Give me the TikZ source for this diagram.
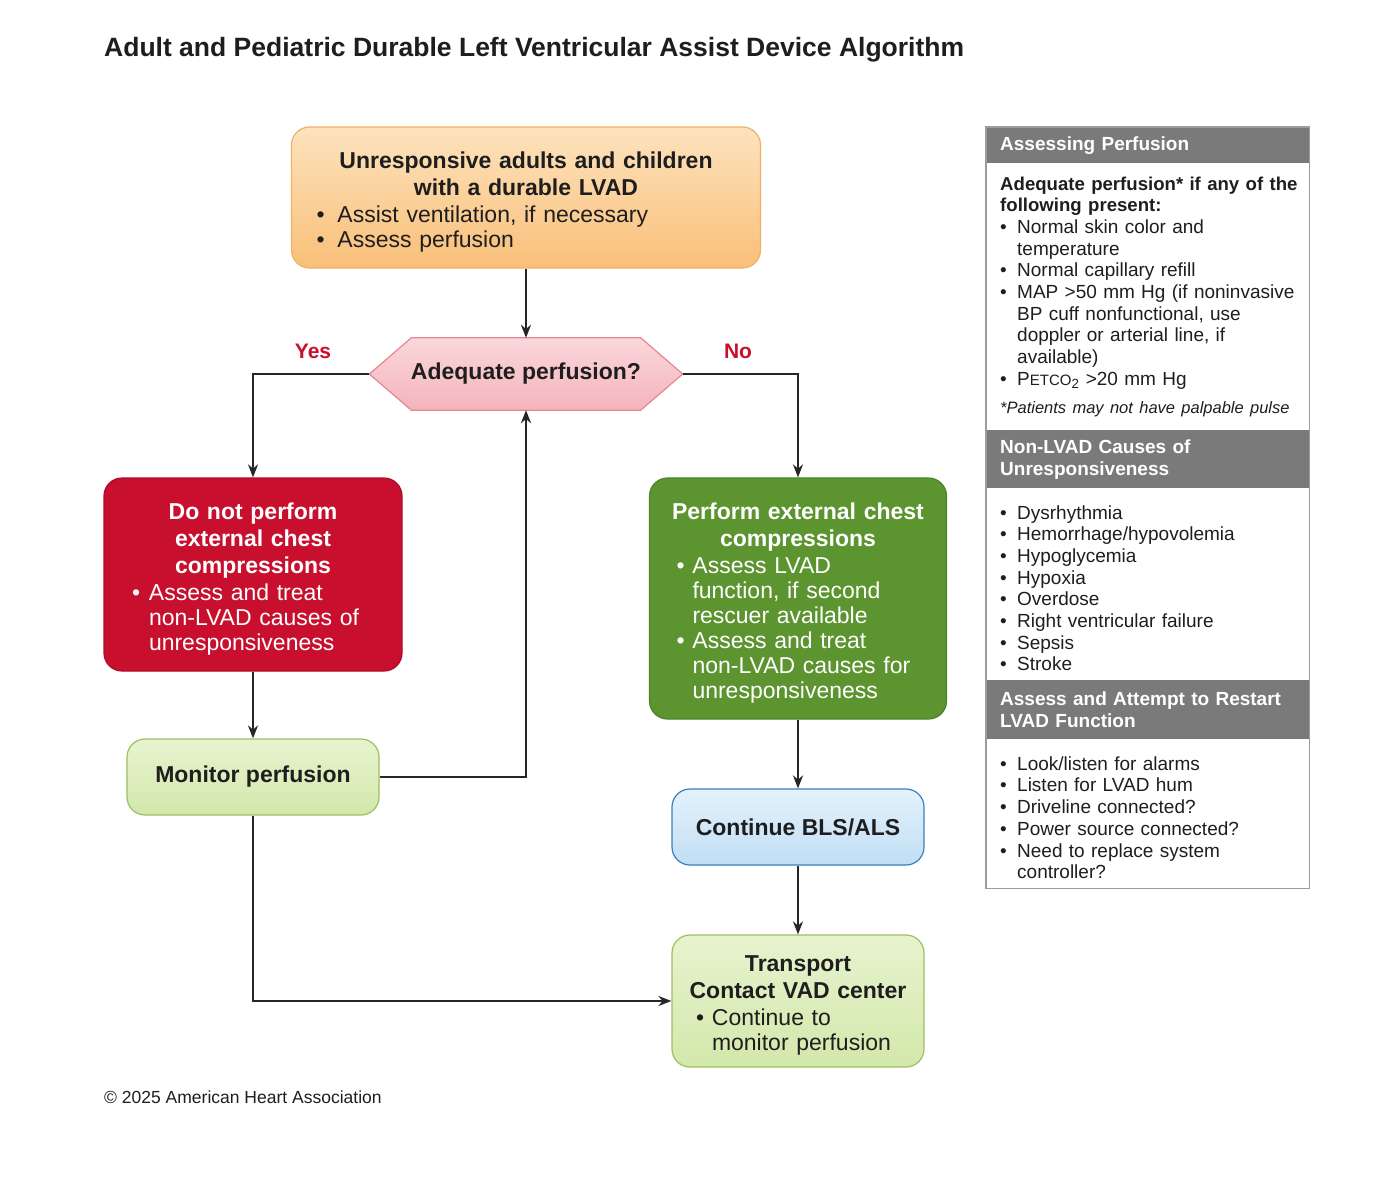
\documentclass[tikz,border=0pt]{standalone}
\usepackage{fontspec}
\setmainfont{Liberation Sans}
\usetikzlibrary{arrows.meta}
\pgfdeclarelayer{background}
\pgfsetlayers{background,main}
\setlength{\parindent}{0pt}
\definecolor{orangetop}{HTML}{FDE3BE}
\definecolor{orangebot}{HTML}{F9BF78}
\definecolor{orangeline}{HTML}{F0B265}
\definecolor{hextop}{HTML}{FAD7DB}
\definecolor{hexbot}{HTML}{F4B4BC}
\definecolor{hexline}{HTML}{E38893}
\definecolor{ahared}{HTML}{C8102E}
\definecolor{aharedline}{HTML}{B00C28}
\definecolor{ahagreen}{HTML}{5C9430}
\definecolor{ahagreenline}{HTML}{4E8427}
\definecolor{lgtop}{HTML}{E7F3CF}
\definecolor{lgbot}{HTML}{D3E8AB}
\definecolor{lgline}{HTML}{9CBF62}
\definecolor{bltop}{HTML}{E4F2FC}
\definecolor{blbot}{HTML}{C0DEF4}
\definecolor{blline}{HTML}{3D7DC0}
\definecolor{panelgray}{HTML}{7A7A7A}
\definecolor{panelline}{HTML}{9C9C9C}
\definecolor{linedark}{HTML}{262626}
\definecolor{textdark}{HTML}{1E1E1E}
\newcommand{\hd}[1]{\par\makebox[\hsize]{\bfseries #1}\par\vspace{2pt}}
\newcommand{\bitem}[2][17pt]{\par\hangindent=#1\hangafter=1\makebox[#1][l]{\textbullet}#2\par}

\begin{document}
\begin{tikzpicture}[x=1pt, y=-1pt,
    flow/.style={rounded corners=18pt, line width=1.2pt, inner sep=0pt, align=left, text=textdark, font=\fontsize{23}{25}\selectfont},
    lightgreen/.style={flow, draw=lgline, top color=lgtop, bottom color=lgbot},
    arr/.style={line width=2pt, draw=linedark, -{Stealth[length=13pt, width=10pt]}},
    lbl/.style={text=ahared, font=\bfseries\fontsize{21}{24}\selectfont},
    panelhd/.style={anchor=north west, fill=panelgray, text=white, inner sep=0pt, minimum width=323pt, text width=295pt, align=left, font=\bfseries\fontsize{19}{22}\selectfont},
    panelbody/.style={anchor=north west, fill=white, text=textdark, inner sep=0pt, minimum width=323pt, text width=295pt, align=left, font=\fontsize{19}{21.7}\selectfont}]
    \useasboundingbox (0,0) rectangle (1400,1194);

    \node[anchor=base west, inner sep=0pt, text=textdark, font=\bfseries\fontsize{26.5}{30}\selectfont] (title) at (104,56) {Adult and Pediatric Durable Left Ventricular Assist Device Algorithm};

    \node[flow, draw=orangeline, top color=orangetop, bottom color=orangebot, minimum width=469pt, minimum height=141pt, text width=419pt] (start) at (526,197.5)
        {\hd{Unresponsive adults and children}\hd{with a durable LVAD}\bitem[21pt]{Assist ventilation, if necessary}\bitem[21pt]{Assess perfusion}};
    \node[minimum width=313pt, minimum height=72pt, inner sep=0pt, text=textdark, font=\bfseries\fontsize{23}{25}\selectfont] (chk) at (526,374) {Adequate perfusion?};
    \node[lbl] (yes) at (313,351) {Yes};
    \node[lbl] (no) at (738,351) {No};
    \node[flow, draw=aharedline, fill=ahared, text=white, minimum width=298pt, minimum height=193pt, text width=242pt] (nocpr) at (253,574.5)
        {\hd{Do not perform}\hd{external chest}\hd{compressions}\bitem{Assess and treat\newline non-LVAD causes of\newline unresponsiveness}};
    \node[flow, draw=ahagreenline, fill=ahagreen, text=white, minimum width=297pt, minimum height=241pt, text width=243pt] (cpr) at (798,598.5)
        {\hd{Perform external chest}\hd{compressions}\bitem[16pt]{Assess LVAD\newline function, if second\newline rescuer available}\bitem[16pt]{Assess and treat\newline non-LVAD causes for\newline unresponsiveness}};
    \node[lightgreen, minimum width=252pt, minimum height=76pt, font=\bfseries\fontsize{23}{25}\selectfont] (mon) at (253,777) {Monitor perfusion};
    \node[flow, draw=blline, top color=bltop, bottom color=blbot, minimum width=252pt, minimum height=76pt, font=\bfseries\fontsize{23}{25}\selectfont] (bls) at (798,827) {Continue BLS/ALS};
    \node[lightgreen, minimum width=252pt, minimum height=132pt, text width=204pt] (tr) at (798,1001)
        {\hd{Transport}\hd{Contact VAD center}\bitem[16pt]{Continue to\newline monitor perfusion}};

    \begin{pgfonlayer}{background}
        \fill[white] (0,0) rectangle (1400,1194);
        \path[draw=hexline, line width=1.2pt, top color=hextop, bottom color=hexbot] (chk.west) -- ([xshift=42pt]chk.north west) -- ([xshift=-42pt]chk.north east)
            -- (chk.east) -- ([xshift=-42pt]chk.south east) -- ([xshift=42pt]chk.south west) -- cycle;
    \end{pgfonlayer}

    \draw[arr] (start.south) -- (chk.north);
    \draw[arr] (chk.west) -| (nocpr.north);
    \draw[arr] (chk.east) -| (cpr.north);
    \draw[arr] (nocpr.south) -- (mon.north);
    \draw[arr] (mon.east) -| (chk.south);
    \draw[arr] (mon.south) |- (tr.west);
    \draw[arr] (cpr.south) -- (bls.north);
    \draw[arr] (bls.south) -- (tr.north);

    \node[panelhd, minimum height=36pt] (hdPerf) at (986,127) {Assessing Perfusion};
    \node[panelbody, minimum height=267pt] (bdPerf) at (986,163)
        {{\fontsize{18.6}{21.7}\selectfont\bfseries \mbox{Adequate perfusion* if any of the}\newline following present:\par}
        \bitem{Normal skin color and\newline temperature}
        \bitem{Normal capillary refill}
        \bitem{\mbox{MAP >50 mm Hg (if noninvasive}\newline BP cuff nonfunctional, use\newline doppler or arterial line, if\newline available)}
        \bitem{P{\fontsize{15}{15}\selectfont ETCO}\textsubscript{2} >20 mm Hg}
        \vspace{8pt}{\itshape\fontsize{16.5}{20}\selectfont \mbox{*Patients may not have palpable pulse}\par}};
    \node[panelhd, minimum height=58pt] (hdCause) at (986,430) {Non-LVAD Causes of\\Unresponsiveness};
    \node[panelbody, minimum height=192pt] (bdCause) at (986,488)
        {\bitem{Dysrhythmia}\bitem{Hemorrhage/hypovolemia}\bitem{Hypoglycemia}\bitem{Hypoxia}
        \bitem{Overdose}\bitem{Right ventricular failure}\bitem{Sepsis}\bitem{Stroke}};
    \node[panelhd, minimum height=59pt] (hdLvad) at (986,680) {Assess and Attempt to Restart\\LVAD Function};
    \node[panelbody, minimum height=149pt] (bdLvad) at (986,739)
        {\bitem{Look/listen for alarms}\bitem{Listen for LVAD hum}\bitem{Driveline connected?}
        \bitem{Power source connected?}\bitem{Need to replace system\newline controller?}};
    \draw[line width=1.5pt, draw=panelline] (hdPerf.north west) rectangle (bdLvad.south east);

    \node[anchor=base west, inner sep=0pt, text=textdark, font=\fontsize{17.5}{20}\selectfont] (copy) at (104,1103) {\textcopyright{} 2025 American Heart Association};
\end{tikzpicture}
\end{document}
